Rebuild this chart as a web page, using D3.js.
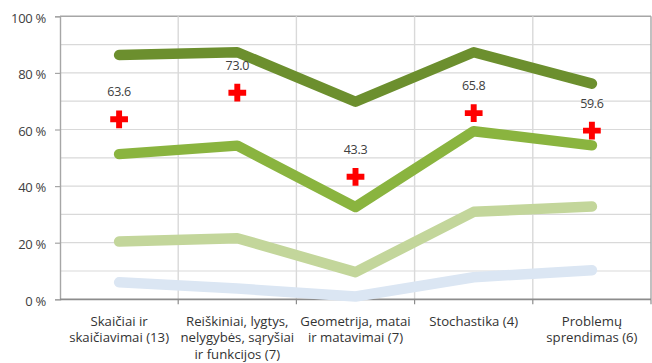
<!DOCTYPE html>
<html>
<head>
<meta charset="utf-8">
<script src="https://cdn.jsdelivr.net/npm/d3@7/dist/d3.min.js"></script>
<style>
  html, body { margin: 0; padding: 0; background: #fff; }
  svg { display: block; }
  text { font-family: "Open Sans", sans-serif; }
</style>
</head>
<body>
<svg id="chart" width="652" height="363"></svg>
<script>
// Topic areas (number of tasks in brackets), one label line per array entry
const categories = [
  ["Skaičiai ir", "skaičiavimai (13)"],
  ["Reiškiniai, lygtys,", "nelygybės, sąryšiai", "ir funkcijos (7)"],
  ["Geometrija, matai", "ir matavimai (7)"],
  ["Stochastika (4)"],
  ["Problemų", "sprendimas (6)"]
];

// Share of students (%) per achievement band
const seriesTop    = [86.3, 87.3, 69.8, 87.3, 76.2];
const seriesUpper  = [51.3, 54.3, 32.6, 59.4, 54.4];
const seriesLower  = [20.4, 21.6, 9.6, 30.9, 32.8];
const seriesBottom = [6.0, 3.8, 1.0, 7.8, 10.3];

// Average score per topic area
const averages = [63.6, 73.0, 43.3, 65.8, 59.6];

const yTicks = [0, 20, 40, 60, 80, 100];
const yGrid  = [10, 30, 50, 70, 90];

(function draw() {
const svg = d3.select("#chart");
const mLeft = 60, mRight = 651, mTop = 16.3, mBottom = 299.3;
const font = "'Open Sans', sans-serif";

const x = d3.scaleBand()
  .domain(d3.range(categories.length))
  .range([mLeft, mRight])
  .paddingInner(0).paddingOuter(0);
const y = d3.scaleLinear().domain([0, 100]).range([mBottom, mTop]);
const cx = i => x(i) + x.bandwidth() / 2;

// Horizontal grid lines
svg.append("g")
  .selectAll("line")
  .data(yGrid.concat(yTicks.filter(t => t > 0)))
  .join("line")
  .attr("x1", mLeft).attr("x2", mRight)
  .attr("y1", d => y(d)).attr("y2", d => y(d))
  .attr("stroke", d => d === 100 ? "#a6a6a6" : "#d9d9d9")
  .attr("stroke-width", d => d === 100 ? 1.6 : 1.2);

// Vertical grid lines between categories
svg.append("g")
  .selectAll("line")
  .data(d3.range(1, categories.length + 1))
  .join("line")
  .attr("x1", i => i < categories.length ? x(i) : mRight)
  .attr("x2", i => i < categories.length ? x(i) : mRight)
  .attr("y1", mTop).attr("y2", mBottom)
  .attr("stroke", i => i < categories.length ? "#d9d9d9" : "#a6a6a6")
  .attr("stroke-width", 1.4);

// Y axis
const yAxis = svg.append("g")
  .attr("transform", `translate(${mLeft},0)`)
  .call(d3.axisLeft(y).tickValues(yTicks).tickSize(5).tickPadding(9)
    .tickFormat(d => d + " %"));
yAxis.select(".domain").attr("stroke", "#a6a6a6").attr("stroke-width", 1.4);
yAxis.selectAll(".tick line").attr("stroke", "#a6a6a6").attr("stroke-width", 1.2);
yAxis.selectAll(".tick text")
  .attr("font-family", font)
  .attr("font-size", 13).attr("letter-spacing", -0.3).attr("fill", "#404040")
  .attr("dy", "0.45em");

// X axis line with ticks at category boundaries
const xAxisG = svg.append("g");
xAxisG.append("line")
  .attr("x1", mLeft).attr("x2", mRight)
  .attr("y1", mBottom).attr("y2", mBottom)
  .attr("stroke", "#8c8c8c").attr("stroke-width", 1.8);
xAxisG.selectAll("line.tick")
  .data(d3.range(1, categories.length + 1))
  .join("line")
  .attr("class", "tick")
  .attr("x1", i => i < categories.length ? x(i) : mRight)
  .attr("x2", i => i < categories.length ? x(i) : mRight)
  .attr("y1", mBottom).attr("y2", mBottom + 5)
  .attr("stroke", "#8c8c8c").attr("stroke-width", 1.2);

// Category labels
const labels = svg.append("g");
categories.forEach((lines, i) => {
  const t = labels.append("text")
    .attr("text-anchor", "middle")
    .attr("font-size", 13.2)
    .attr("fill", "#333");
  lines.forEach((ln, k) => {
    t.append("tspan").attr("x", cx(i)).attr("y", 325.5 + k * 16.5).text(ln);
  });
});

// Band lines
const line = d3.line().x((d, i) => cx(i)).y(d => y(d));
const bands = [
  { values: seriesBottom, color: "#dbe6f3" },
  { values: seriesLower,  color: "#c3d69b" },
  { values: seriesUpper,  color: "#8ab43f" },
  { values: seriesTop,    color: "#6c8f2e" }
];
svg.append("g")
  .selectAll("path")
  .data(bands)
  .join("path")
  .attr("d", d => line(d.values))
  .attr("fill", "none")
  .attr("stroke", d => d.color)
  .attr("stroke-width", 10.5)
  .attr("stroke-linecap", "round")
  .attr("stroke-linejoin", "round");

// Average markers (red crosses) with value labels
const cross = d3.symbol().type(d3.symbolCross).size(175);
const marks = svg.append("g");
marks.selectAll("path")
  .data(averages)
  .join("path")
  .attr("transform", (d, i) => `translate(${cx(i)},${y(d)})`)
  .attr("d", cross)
  .attr("fill", "#ff0000");
marks.selectAll("text")
  .data(averages)
  .join("text")
  .attr("x", (d, i) => cx(i))
  .attr("y", d => y(d) - 23)
  .attr("text-anchor", "middle")
  .attr("font-size", 12.5)
  .attr("letter-spacing", -0.3)
  .attr("fill", "#404040")
  .text(d => d.toFixed(1));
})();
</script>
</body>
</html>
